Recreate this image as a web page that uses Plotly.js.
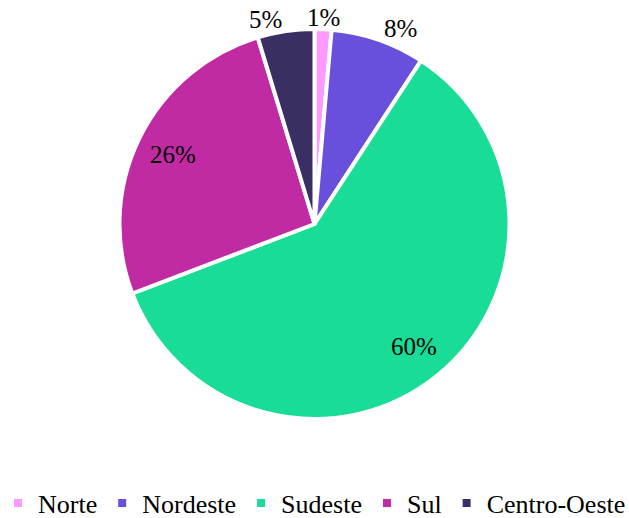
<!DOCTYPE html>
<html>
<head>
<meta charset="utf-8">
<script src="https://cdn.plot.ly/plotly-3.0.1.min.js"></script>
<style>
	html, body { margin: 0; padding: 0; background: #fff; }
	#grafico { width: 629px; height: 518px; }
</style>
</head>
<body>
<div id="grafico"></div>
<script>
// Regiões e participação (%)
const regioes = ["Norte", "Nordeste", "Sudeste", "Sul", "Centro-Oeste"];
const valores = [1.4, 7.8, 60.0, 26.1, 4.7];
const cores = ["#ff99ff", "#6a4fdc", "#19dc96", "#c02ba4", "#3a2f63"];
const dentro = [false, false, true, true, false]; // rótulo dentro ou fora da fatia

const fonte = "Liberation Serif";
const W = 629, H = 518;
const margem = { l: 0, r: 0, t: 29, b: 99 };

// Rótulos de porcentagem no estilo do Excel (calculados a partir dos valores)
function criarRotulos() {
	const total = valores.reduce((a, b) => a + b, 0);
	const largura = W - margem.l - margem.r;
	const altura = H - margem.t - margem.b;
	const raio = Math.min(largura, altura) / 2;
	let acumulado = 0;
	let rotulos = [];
	valores.forEach((v, i) => {
		const meio = (acumulado + v / 2) / total;
		acumulado += v;
		const ang = meio * 2 * Math.PI;
		const s = Math.sin(ang);
		const r = dentro[i] ? raio * 0.81 : raio + 12;
		let ancora = "center";
		if (!dentro[i] && s > 0.1) ancora = "left";
		if (!dentro[i] && s < -0.1) ancora = "right";
		rotulos.push({
			x: 0.5 + (r * s) / largura,
			y: 0.5 + (r * Math.cos(ang)) / altura,
			xref: "paper",
			yref: "paper",
			xanchor: ancora,
			yanchor: "middle",
			showarrow: false,
			text: Math.round((v / total) * 100) + "%",
			font: { family: fonte, size: 25, color: "#000" },
		});
	});
	return rotulos;
}

let trace = {
	type: "pie",
	labels: regioes,
	values: valores,
	sort: false,
	direction: "clockwise",
	rotation: 0,
	textinfo: "none",
	marker: {
		colors: cores,
		line: { color: "#fff", width: 4 },
	},
	hoverinfo: "label+percent",
};

let layout = {
	width: W,
	height: H,
	margin: margem,
	paper_bgcolor: "#fff",
	showlegend: true,
	legend: {
		orientation: "h",
		x: 0.5,
		xanchor: "center",
		xref: "container",
		y: 0.029,
		yref: "container",
		yanchor: "middle",
		font: { family: fonte, size: 26, color: "#000" },
		itemwidth: 30,
	},
	annotations: criarRotulos(),
};

Plotly.newPlot("grafico", [trace], layout, { displayModeBar: false, staticPlot: true });
</script>
</body>
</html>
